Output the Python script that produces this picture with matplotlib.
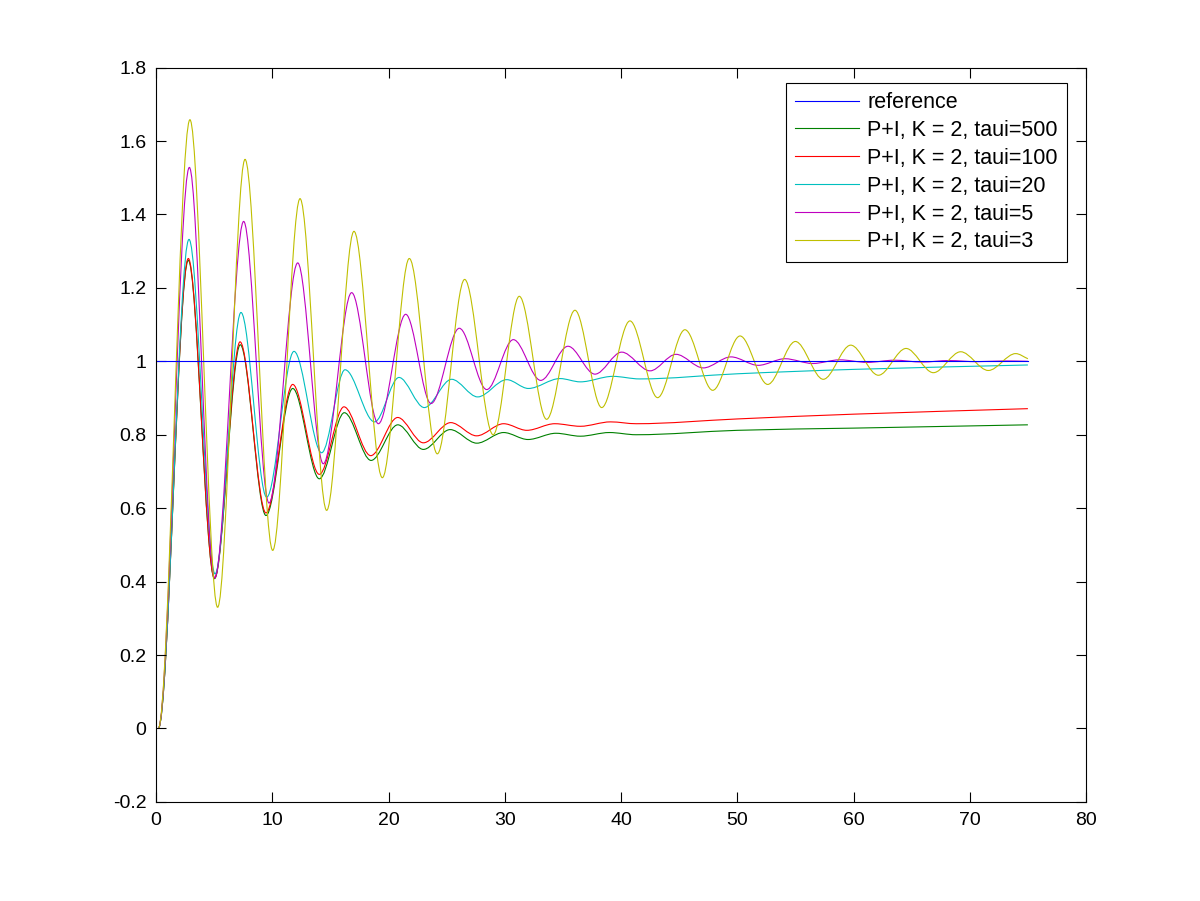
import numpy as np
import matplotlib
matplotlib.use('Agg')
import matplotlib.pyplot as plt
from matplotlib.path import Path
from matplotlib.patches import PathPatch
from matplotlib.lines import Line2D

# ============================================================================
# DATA - turning points of each step response
# ============================================================================

ref_t = [0, 75]
ref_y = [1.0, 1.0]

# P+I, K = 2, taui=500
g_t = [0.2, 2.78, 5.03, 7.25, 9.46, 11.76, 14.05, 16.2, 18.5, 20.8, 23.0, 25.3,
       27.6, 29.9, 32.0, 34.4, 36.5, 39.0, 41.3, 50.0, 60.0, 75.0]
g_y = [0.0, 1.275, 0.408, 1.045, 0.580, 0.926, 0.680, 0.860, 0.730, 0.827, 0.760, 0.814,
       0.777, 0.806, 0.787, 0.804, 0.796, 0.806, 0.800, 0.812, 0.818, 0.827]

# P+I, K = 2, taui=100
r_t = [0.2, 2.78, 5.03, 7.23, 9.46, 11.76, 14.05, 16.17, 18.47, 20.79, 23.0, 25.35,
       27.58, 29.9, 31.9, 34.3, 36.5, 39.1, 41.3, 50.0, 60.0, 75.0]
r_y = [0.0, 1.28, 0.410, 1.053, 0.587, 0.937, 0.692, 0.876, 0.743, 0.847, 0.778, 0.833,
       0.797, 0.830, 0.812, 0.830, 0.823, 0.835, 0.830, 0.843, 0.856, 0.871]

# P+I, K = 2, taui=20
c_t = [0.2, 2.84, 5.08, 7.31, 9.52, 11.87, 14.25, 16.26, 18.8, 20.9, 23.08, 25.43,
       27.67, 30.17, 32.03, 34.75, 36.5, 39.3, 41.6, 50.0, 60.0, 75.0]
c_y = [0.0, 1.332, 0.421, 1.133, 0.630, 1.027, 0.751, 0.977, 0.835, 0.956, 0.874, 0.951,
       0.903, 0.950, 0.926, 0.953, 0.944, 0.959, 0.952, 0.966, 0.978, 0.990]

# P+I, K = 2, taui=5
m_t = [0.2, 2.87, 5.05, 7.54, 9.72, 12.19, 14.39, 16.83, 19.13, 21.48, 23.66, 26.09,
       28.45, 30.74, 33.09, 35.44, 37.76, 40.06, 42.5, 44.73, 47.08, 49.46, 51.8,
       54.1, 56.5, 58.8, 61.2, 63.5, 65.9, 68.2, 70.6, 73.0, 75.0]
m_y = [0.0, 1.528, 0.410, 1.381, 0.614, 1.268, 0.721, 1.187, 0.830, 1.128, 0.885, 1.090,
       0.923, 1.059, 0.948, 1.041, 0.965, 1.025, 0.974, 1.019, 0.982, 1.012, 0.989,
       1.007, 0.994, 1.004, 0.997, 1.003, 0.998, 1.002, 0.999, 1.001, 1.000]

# P+I, K = 2, taui=3
y_t = [0.2, 2.92, 5.3, 7.66, 10.04, 12.39, 14.68, 17.03, 19.47, 21.79, 24.2, 26.55,
       29.0, 31.25, 33.6, 36.04, 38.34, 40.77, 43.15, 45.5, 47.89, 50.24, 52.62,
       55.0, 57.4, 59.76, 62.14, 64.52, 66.87, 69.22, 71.6, 73.95, 75.0]
y_y = [0.0, 1.658, 0.330, 1.550, 0.485, 1.443, 0.594, 1.354, 0.683, 1.280, 0.748, 1.223,
       0.800, 1.177, 0.842, 1.139, 0.874, 1.110, 0.901, 1.086, 0.921, 1.069, 0.937,
       1.054, 0.951, 1.044, 0.962, 1.035, 0.969, 1.026, 0.975, 1.021, 1.007]

labels = ['reference', 'P+I, K = 2, taui=500', 'P+I, K = 2, taui=100',
          'P+I, K = 2, taui=20', 'P+I, K = 2, taui=5', 'P+I, K = 2, taui=3']
colors = ['#0000ff', '#008000', '#ff0000', '#00bfbf', '#bf00bf', '#bfbf00']

xticks = [0, 10, 20, 30, 40, 50, 60, 70, 80]
yticks = [-0.2, 0, 0.2, 0.4, 0.6, 0.8, 1.0, 1.2, 1.4, 1.6, 1.8]
yticklabels = ['-0.2', '0', '0.2', '0.4', '0.6', '0.8', '1', '1.2', '1.4', '1.6', '1.8']


def response_path(t, y):
    # smooth curve through the turning points: flat tangent at peaks/troughs
    t = np.asarray(t, float)
    y = np.asarray(y, float)
    n = len(t)
    slope = np.zeros(n)
    for i in range(1, n - 1):
        if (y[i] - y[i - 1]) * (y[i + 1] - y[i]) > 0:
            slope[i] = (y[i + 1] - y[i - 1]) / (t[i + 1] - t[i - 1])
    slope[-1] = (y[-1] - y[-2]) / (t[-1] - t[-2])
    verts = [(t[0], y[0])]
    codes = [Path.MOVETO]
    for i in range(n - 1):
        d = t[i + 1] - t[i]
        verts += [(t[i] + d / 3, y[i] + slope[i] * d / 3),
                  (t[i + 1] - d / 3, y[i + 1] - slope[i + 1] * d / 3),
                  (t[i + 1], y[i + 1])]
        codes += [Path.CURVE4] * 3
    return Path(verts, codes)


# ============================================================================
# PLOT
# ============================================================================
plt.rcParams['font.family'] = ['Liberation Sans', 'DejaVu Sans']

fig = plt.figure(figsize=(12, 9.01), dpi=100)
ax = fig.add_axes([0.13, 0.11, 0.775, 0.815])

ax.plot(ref_t, ref_y, color=colors[0], lw=0.8)
for (t, y), c in zip([(g_t, g_y), (r_t, r_y), (c_t, c_y), (m_t, m_y), (y_t, y_y)], colors[1:]):
    ax.add_patch(PathPatch(response_path(t, y), facecolor='none', edgecolor=c, lw=0.8))

ax.set_xlim(0, 80)
ax.set_ylim(-0.2, 1.8)
ax.set_xticks(xticks)
ax.set_yticks(yticks)
ax.set_yticklabels(yticklabels)
ax.tick_params(direction='in', top=True, right=True, length=7, width=0.8,
               labelsize=14, pad=7)
for s in ax.spines.values():
    s.set_linewidth(0.8)

handles = [Line2D([], [], color=c, lw=0.8) for c in colors]
leg = ax.legend(handles, labels, loc='upper right',
                bbox_to_anchor=(1067 / 1200, 1 - 83 / 901), bbox_transform=fig.transFigure,
                borderaxespad=0, fontsize=15.5, handlelength=3.0, handletextpad=0.37,
                labelspacing=0.32, borderpad=0.42, fancybox=False, framealpha=1)
leg.get_frame().set_edgecolor('black')
leg.get_frame().set_linewidth(0.8)

plt.savefig('out.png', dpi=100)
